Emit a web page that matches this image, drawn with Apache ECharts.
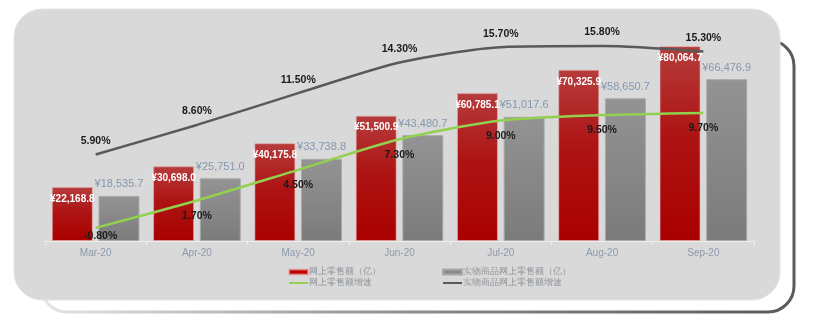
<!DOCTYPE html>
<html>
<head>
<meta charset="utf-8">
<script src="https://cdn.jsdelivr.net/npm/echarts@6/dist/echarts.min.js"></script>
<style>
html,body{margin:0;padding:0;background:#fff;}
#c{width:814px;height:326px;}
</style>
</head>
<body>
<div id="c"></div>
<script>
const categories = ['Mar-20', 'Apr-20', 'May-20', 'Jun-20', 'Jul-20', 'Aug-20', 'Sep-20'];
const onlineSales = [22168.8, 30698.0, 40175.8, 51500.9, 60785.1, 70325.9, 80064.7];
const physicalSales = [18535.7, 25751.0, 33738.8, 43480.7, 51017.6, 58650.7, 66476.9];
const onlineGrowth = [-0.8, 1.7, 4.5, 7.3, 9.0, 9.5, 9.7];
const physicalGrowth = [5.9, 8.6, 11.5, 14.3, 15.7, 15.8, 15.3];
const seriesNames = ['网上零售额（亿）', '实物商品网上零售额（亿）', '网上零售额增速', '实物商品网上零售额增速'];

const fmtMoney = v => '¥' + v.toLocaleString('en-US', {minimumFractionDigits: 1, maximumFractionDigits: 1});
const fmtPct = v => v.toFixed(2) + '%';
const FONT = '"Liberation Sans", Arial, sans-serif';

const legendText = {color: '#8f9499', fontSize: 9, fontFamily: FONT, padding: [0, 0, 0, -4], lineHeight: 10};

const chart = echarts.init(document.getElementById('c'));
chart.setOption({
  animation: false,
  backgroundColor: '#ffffff',
  graphic: [
    {
      type: 'rect', z: 0, silent: true,
      shape: {x: 41, y: 40, width: 753, height: 272, r: 26},
      style: {
        fill: '#ffffff',
        lineWidth: 3,
        stroke: {type: 'linear', x: 0, y: 0, x2: 1, y2: 0, colorStops: [
          {offset: 0, color: '#e6e6e6'}, {offset: 0.5, color: '#8a8a8a'}, {offset: 1, color: '#5a5a5a'}
        ]}
      }
    },
    {
      type: 'rect', z: 0, silent: true,
      shape: {x: 14, y: 9, width: 766, height: 291, r: 28},
      style: {fill: '#d9d9d9', stroke: '#e4e4e4', lineWidth: 1}
    }
  ],
  grid: {left: 45, right: 60, top: 22, bottom: 85, containLabel: false},
  legend: [
    {
      left: 283, top: 262, orient: 'vertical', itemGap: 1, itemWidth: 19, itemHeight: 5,
      textStyle: legendText,
      data: [
        {name: seriesNames[0], icon: 'rect', itemStyle: {color: '#c00000'}},
        {name: seriesNames[2], itemStyle: {opacity: 0}}
      ]
    },
    {
      left: 437, top: 262, orient: 'vertical', itemGap: 1, itemWidth: 19, itemHeight: 5,
      textStyle: legendText,
      data: [
        {name: seriesNames[1], icon: 'rect', itemStyle: {color: '#8a8a8a'}},
        {name: seriesNames[3], itemStyle: {opacity: 0}}
      ]
    }
  ],
  xAxis: {
    type: 'category',
    data: categories,
    axisLine: {lineStyle: {color: '#efefef', width: 1}},
    axisTick: {show: true, length: 4, lineStyle: {color: '#efefef'}},
    axisLabel: {color: '#8d9aab', fontSize: 10, fontFamily: FONT, margin: 7}
  },
  yAxis: [
    {type: 'value', min: 0, max: 90000, show: false, splitLine: {show: false}},
    {type: 'value', min: -2, max: 18, show: false, splitLine: {show: false}}
  ],
  series: [
    {
      name: seriesNames[0], type: 'bar', yAxisIndex: 0,
      data: onlineSales,
      barCategoryGap: '13.5%', barGap: '14%',
      itemStyle: {
        color: {type: 'linear', x: 0, y: 0, x2: 0, y2: 1, colorStops: [
          {offset: 0, color: '#b63c3c'}, {offset: 0.45, color: '#ae1414'}, {offset: 1, color: '#aa0000'}
        ]},
        borderColor: 'rgba(230,170,170,0.6)', borderWidth: 1
      },
      label: {
        show: true, position: 'insideTop', distance: 7,
        formatter: p => fmtMoney(p.value),
        color: '#ffffff', fontWeight: 'bold', fontSize: 10, fontFamily: FONT
      }
    },
    {
      name: seriesNames[1], type: 'bar', yAxisIndex: 0,
      data: physicalSales,
      barCategoryGap: '13.5%', barGap: '14%',
      itemStyle: {
        color: {type: 'linear', x: 0, y: 0, x2: 0, y2: 1, colorStops: [
          {offset: 0, color: '#939393'}, {offset: 1, color: '#7b7b7b'}
        ]},
        borderColor: '#a8a8a8', borderWidth: 1
      },
      label: {
        show: true, position: 'top', distance: 6,
        formatter: p => fmtMoney(p.value),
        color: '#8497b0', fontSize: 11, fontFamily: FONT
      }
    },
    {
      name: seriesNames[2], type: 'line', yAxisIndex: 1,
      data: onlineGrowth.map((v, i) => i === 0 ? {value: v, label: {distance: 3, offset: [5, 0]}} : v),
      smooth: 0.25, symbol: 'circle', symbolSize: 0, showSymbol: true,
      lineStyle: {color: '#92d050', width: 2.5},
      itemStyle: {color: '#92d050'},
      label: {
        show: true, position: 'bottom', distance: 10,
        formatter: p => fmtPct(p.value),
        color: '#1a1a1a', fontWeight: 'bold', fontSize: 10.5, fontFamily: FONT
      }
    },
    {
      name: seriesNames[3], type: 'line', yAxisIndex: 1,
      data: physicalGrowth,
      smooth: 0.25, symbol: 'circle', symbolSize: 0, showSymbol: true,
      lineStyle: {color: '#595959', width: 2.5},
      itemStyle: {color: '#595959'},
      label: {
        show: true, position: 'top', distance: 8,
        formatter: p => fmtPct(p.value),
        color: '#1a1a1a', fontWeight: 'bold', fontSize: 10.5, fontFamily: FONT
      }
    }
  ]
});
</script>
</body>
</html>
